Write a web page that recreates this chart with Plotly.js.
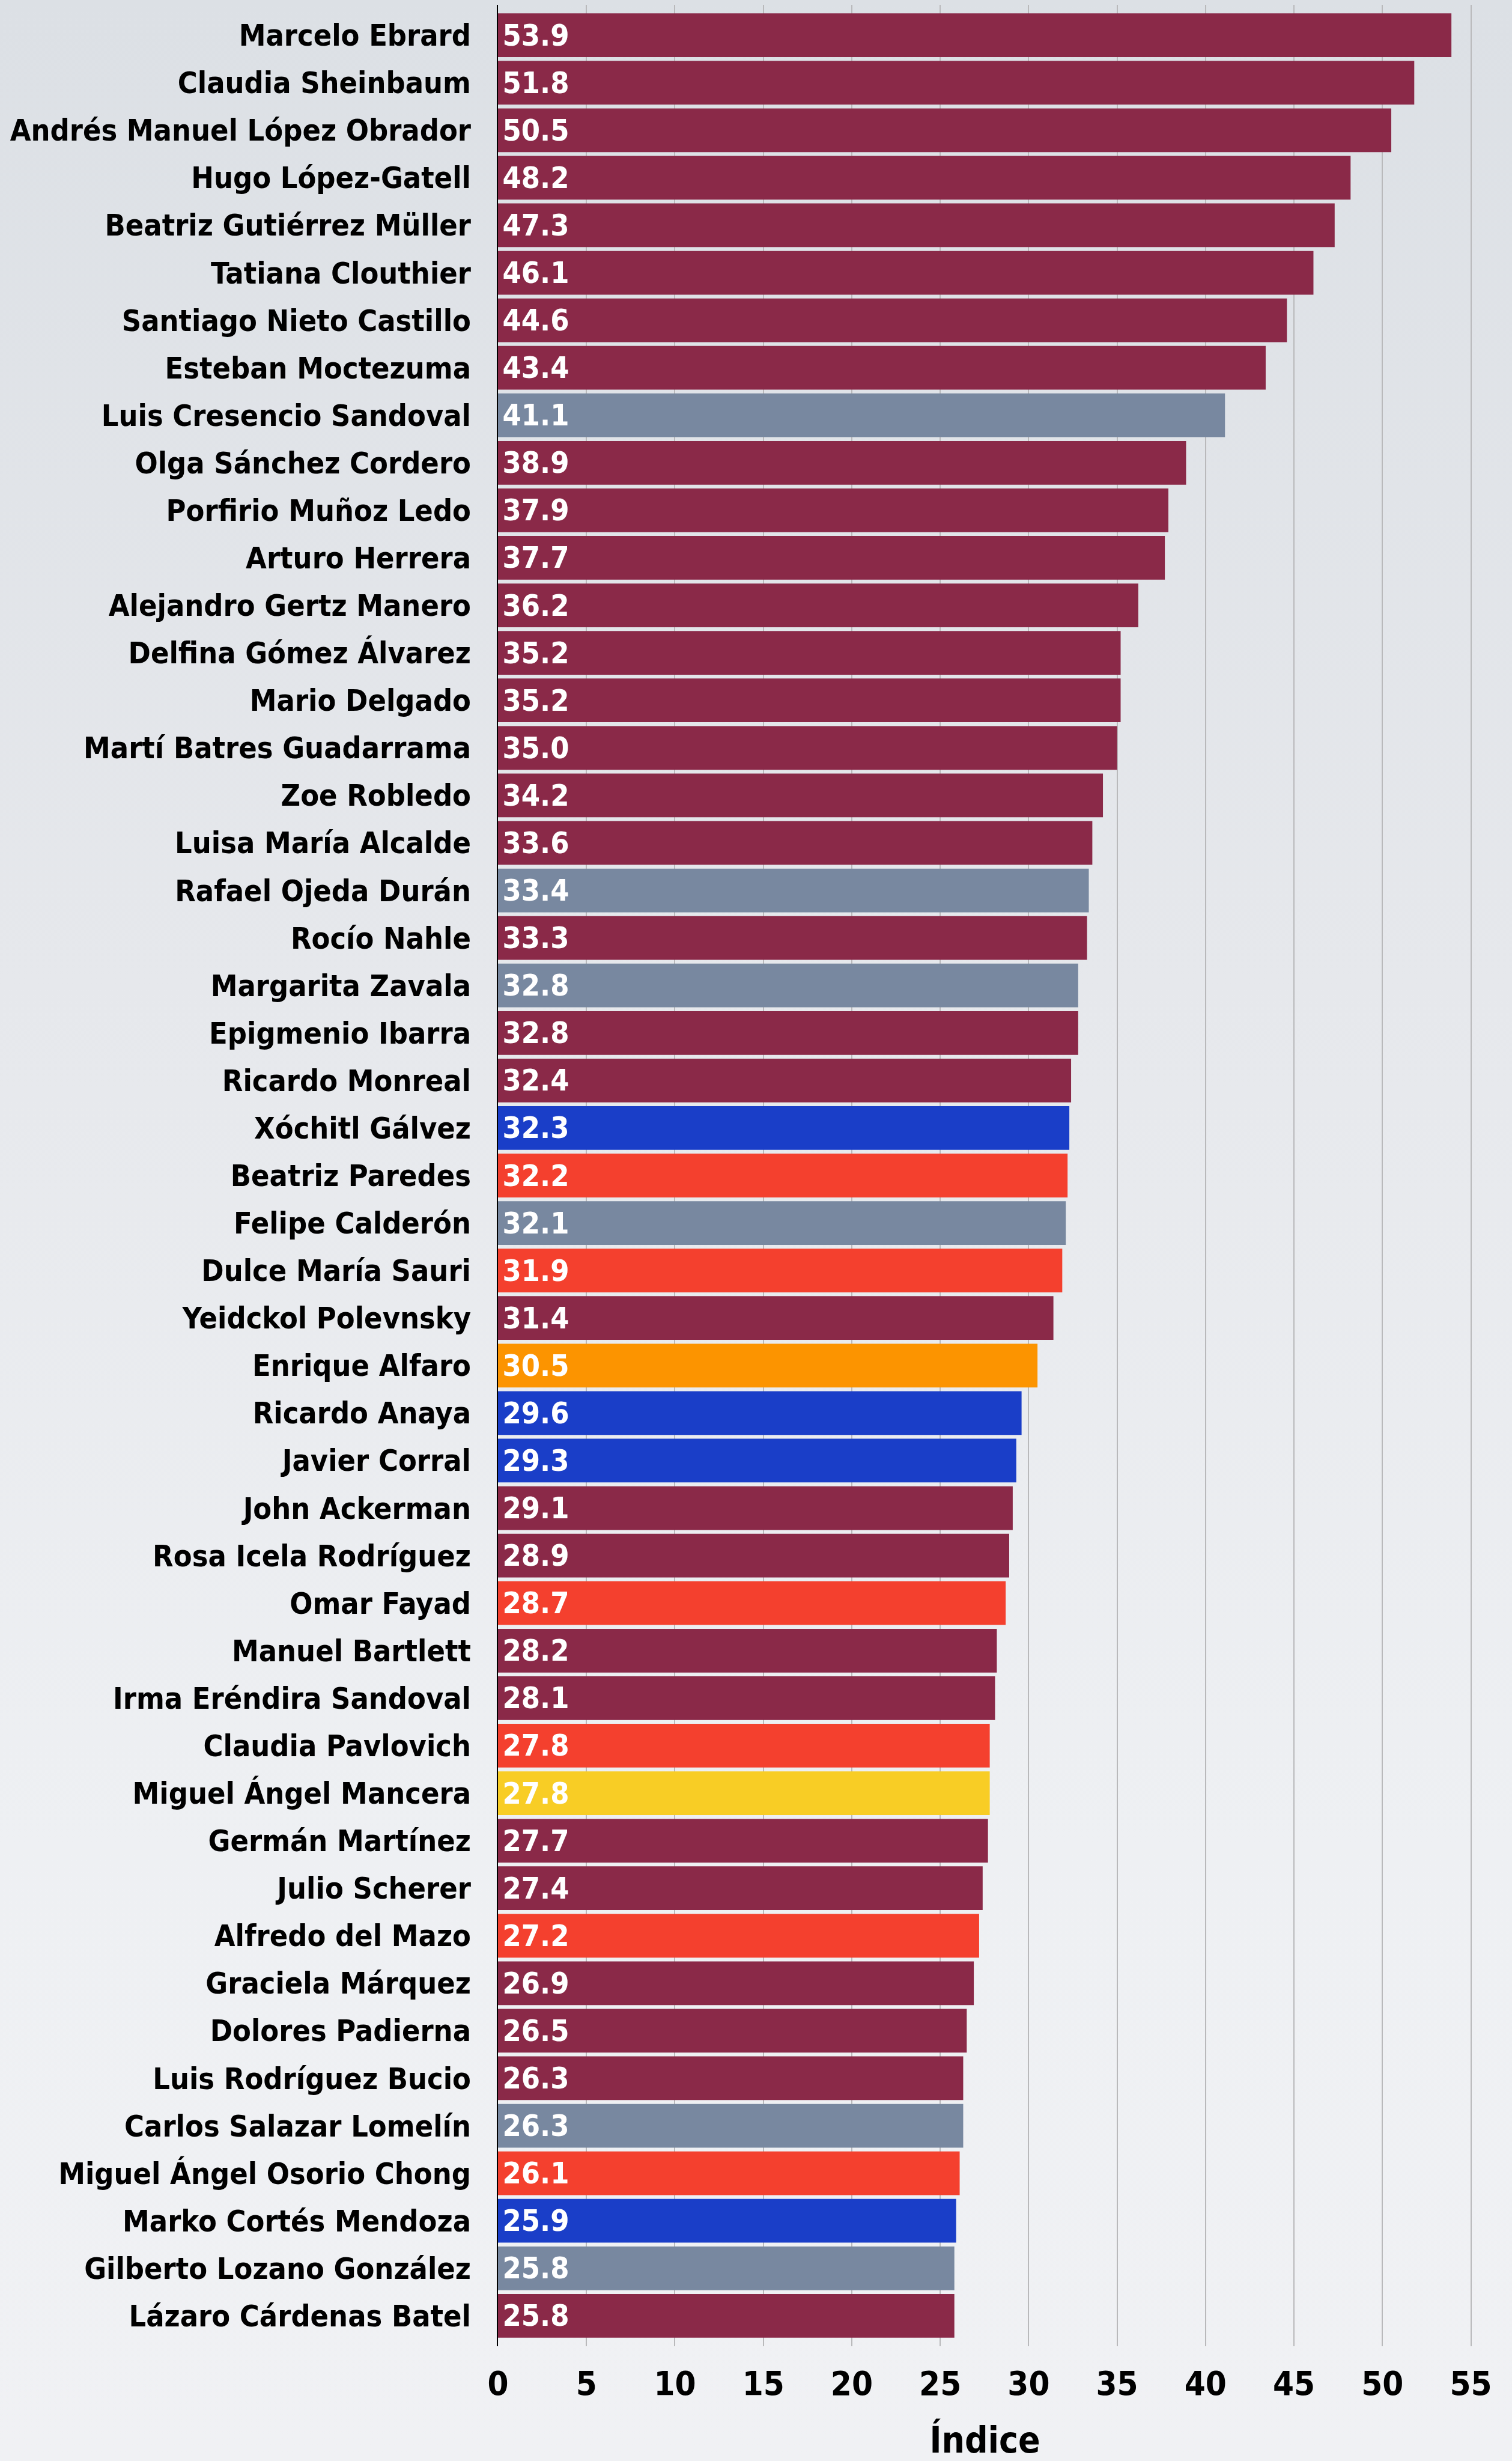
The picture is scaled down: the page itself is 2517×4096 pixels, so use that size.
<!DOCTYPE html>
<html>
<head>
<meta charset="utf-8">
<script src="https://cdn.plot.ly/plotly-3.0.1.min.js"></script>
<style>
  html, body { margin: 0; padding: 0; }
  body {
    width: 2517px; height: 4096px; overflow: hidden;
    background: linear-gradient(to bottom, #dce0e5 0%, #e6e8ec 40%, #eef0f3 75%, #f0f1f4 100%);
  }
  #chart { width: 2517px; height: 4096px; }
</style>
</head>
<body>
<div id="chart"></div>
<script>
const names = [
  "Marcelo Ebrard", "Claudia Sheinbaum", "Andrés Manuel López Obrador", "Hugo López-Gatell",
  "Beatriz Gutiérrez Müller", "Tatiana Clouthier", "Santiago Nieto Castillo", "Esteban Moctezuma",
  "Luis Cresencio Sandoval", "Olga Sánchez Cordero", "Porfirio Muñoz Ledo", "Arturo Herrera",
  "Alejandro Gertz Manero", "Delfina Gómez Álvarez", "Mario Delgado", "Martí Batres Guadarrama",
  "Zoe Robledo", "Luisa María Alcalde", "Rafael Ojeda Durán", "Rocío Nahle",
  "Margarita Zavala", "Epigmenio Ibarra", "Ricardo Monreal", "Xóchitl Gálvez",
  "Beatriz Paredes", "Felipe Calderón", "Dulce María Sauri", "Yeidckol Polevnsky",
  "Enrique Alfaro", "Ricardo Anaya", "Javier Corral", "John Ackerman",
  "Rosa Icela Rodríguez", "Omar Fayad", "Manuel Bartlett", "Irma Eréndira Sandoval",
  "Claudia Pavlovich", "Miguel Ángel Mancera", "Germán Martínez", "Julio Scherer",
  "Alfredo del Mazo", "Graciela Márquez", "Dolores Padierna", "Luis Rodríguez Bucio",
  "Carlos Salazar Lomelín", "Miguel Ángel Osorio Chong", "Marko Cortés Mendoza",
  "Gilberto Lozano González", "Lázaro Cárdenas Batel"
];
const values = [
  53.9, 51.8, 50.5, 48.2, 47.3, 46.1, 44.6, 43.4,
  41.1, 38.9, 37.9, 37.7, 36.2, 35.2, 35.2, 35.0,
  34.2, 33.6, 33.4, 33.3, 32.8, 32.8, 32.4, 32.3,
  32.2, 32.1, 31.9, 31.4, 30.5, 29.6, 29.3, 29.1,
  28.9, 28.7, 28.2, 28.1, 27.8, 27.8, 27.7, 27.4,
  27.2, 26.9, 26.5, 26.3, 26.3, 26.1, 25.9, 25.8, 25.8
];
// Party / group of each person (drives bar colour)
const groups = [
  "morena", "morena", "morena", "morena", "morena", "morena", "morena", "morena",
  "otro", "morena", "morena", "morena", "morena", "morena", "morena", "morena",
  "morena", "morena", "otro", "morena", "otro", "morena", "morena", "pan",
  "pri", "otro", "pri", "morena", "mc", "pan", "pan", "morena",
  "morena", "pri", "morena", "morena", "pri", "prd", "morena", "morena",
  "pri", "morena", "morena", "morena", "otro", "pri", "pan", "otro", "morena"
];
const groupColors = {
  morena: "#8a2948",
  otro: "#7888a0",
  pan: "#1a3ec8",
  pri: "#f4402e",
  mc: "#fc9400",
  prd: "#f8cd25"
};
const xTicks = [0, 5, 10, 15, 20, 25, 30, 35, 40, 45, 50, 55];
const xTitle = "Índice";

const FONT = "DejaVu Sans Condensed, DejaVu Sans, sans-serif";

const trace = {
  type: "bar",
  orientation: "h",
  x: values,
  y: names,
  width: 0.92,
  marker: { color: groups.map(g => groupColors[g]), line: { width: 0 } },
  text: values.map(v => "\u200A" + v.toFixed(1)),
  textposition: "inside",
  insidetextanchor: "start",
  constraintext: "none",
  textfont: { family: FONT, size: 50, color: "#ffffff", weight: "bold" },
  hoverinfo: "none",
  cliponaxis: false
};

const layout = {
  width: 2517,
  height: 4096,
  margin: { l: 829, r: 67, t: 8, b: 191, pad: 0 },
  paper_bgcolor: "rgba(0,0,0,0)",
  plot_bgcolor: "rgba(0,0,0,0)",
  showlegend: false,
  bargap: 0.08,
  font: { family: FONT },
  xaxis: {
    range: [0, 55.05],
    tickvals: xTicks,
    ticktext: xTicks.map(String),
    showgrid: true,
    gridcolor: "#b9b9bb",
    gridwidth: 2,
    zeroline: false,
    showline: false,
    ticks: "",
    ticklabelstandoff: 24,
    tickfont: { family: FONT, size: 56, color: "#000000", weight: "bold" },
    title: { text: xTitle, standoff: 62, font: { family: FONT, size: 60, color: "#000000", weight: "bold" } },
    automargin: false,
    fixedrange: true
  },
  yaxis: {
    type: "category",
    categoryorder: "array",
    categoryarray: names,
    range: [48.64, -0.64],
    showgrid: false,
    zeroline: false,
    showline: true,
    linecolor: "#000000",
    linewidth: 2,
    ticks: "",
    ticklabelstandoff: 33,
    tickfont: { family: FONT, size: 50, color: "#000000", weight: "bold" },
    automargin: false,
    fixedrange: true
  }
};

Plotly.newPlot("chart", [trace], layout, { staticPlot: true, displayModeBar: false });
</script>
</body>
</html>
